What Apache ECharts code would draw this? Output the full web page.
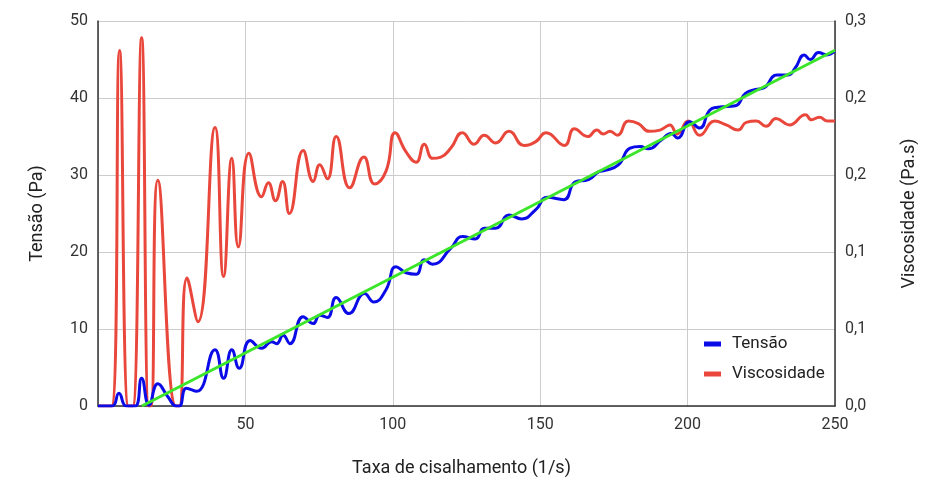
<!DOCTYPE html>
<html>
<head>
<meta charset="utf-8">
<script src="https://cdn.jsdelivr.net/npm/echarts@6/dist/echarts.min.js"></script>
<style>
html,body{margin:0;padding:0;background:#fff;}
#chart{width:926px;height:482px;}
</style>
</head>
<body>
<div id="chart"></div>
<script>
// Tensão (Pa) vs shear rate
var tensaoX = [0,4.8,7.1,9.6,12.6,14.8,17.3,20.3,23.7,26.6,27.6,30.0,33.5,39.7,42.6,45.4,47.9,51.6,55.5,58.9,60.6,62.8,65.1,69.6,73,75.2,77.8,80.8,85.1,90.4,93.6,97.7,101.1,104.5,107.9,110.7,113.5,119.7,123.6,128,131,134.9,139.4,143.7,148.5,152.4,158,161.9,166.4,169.8,172,176.5,180.5,183.9,186.7,191,194.4,196.6,200.7,204.1,207.5,210.3,216.2,219.6,223,225.8,230.3,234.2,236.5,239.6,241.6,244.4,247.2,250];
var tensaoY = [0,0,1.65,0,0,3.6,0.1,2.9,1.2,0,0,2.3,1.9,7.3,3.6,7.3,4.9,8.5,7.5,8.35,8.1,9.2,8.1,11.6,10.7,11.8,11.5,14.1,12.0,14.6,13.5,15.1,18.1,17.3,17.1,19.0,18.4,20.5,22.0,21.7,23.1,23.1,24.8,24.3,25.5,27.1,26.8,29.1,29.4,30.4,30.6,31.3,33.5,33.7,33.4,34.5,35.4,34.8,36.9,36.1,38.4,38.8,39.0,40.6,41.1,41.3,43.0,43.0,43.9,45.6,45.0,45.9,45.6,46.1];
// Viscosidade (Pa.s)
var viscX = [0,4.6,7.3,10.3,11.8,14.8,17.2,18.0,20.3,26.4,27.6,30.2,33.9,39.7,42.6,45.4,47.6,51.2,55.5,57.8,60.2,62.6,64.9,69.6,73,75.2,77.8,80.8,85.4,90.2,93.8,97.7,100.8,104.5,107.9,110.7,113.5,116.3,119.7,123.6,127.6,131,134.9,139.4,144.5,148.5,152,158.2,161.6,166.1,169.2,171.4,173.7,176.2,179.9,183.3,187,190.6,192.9,194,196.5,200.2,204.1,209.2,213.1,217.1,219.9,223.3,226.6,230,234.5,240,242,244.7,247.5,250];
var viscY = [0,0,0.277,0,0,0.287,0,0,0.176,0,0,0.0997,0.0657,0.217,0.101,0.193,0.124,0.197,0.163,0.174,0.160,0.175,0.150,0.199,0.175,0.188,0.177,0.210,0.170,0.194,0.173,0.183,0.213,0.198,0.190,0.204,0.193,0.194,0.201,0.213,0.204,0.211,0.205,0.214,0.203,0.206,0.213,0.203,0.216,0.210,0.215,0.212,0.214,0.211,0.222,0.220,0.214,0.215,0.218,0.219,0.212,0.222,0.211,0.222,0.219,0.215,0.221,0.222,0.218,0.224,0.219,0.227,0.223,0.225,0.222,0.222];
// Linear trend of Tensão
var trendX = [14.9, 250];
var trendY = [0, 46.2];

var xTicks = [50, 100, 150, 200, 250];

function zip(a, b) { return a.map(function (v, i) { return [v, b[i]]; }); }

var chart = echarts.init(document.getElementById('chart'), null, {renderer: 'canvas'});
var font = 'Roboto';
chart.setOption({
  animation: false,
  textStyle: {fontFamily: font},
  grid: {left: 98, right: 88, top: 21, bottom: 76, containLabel: false},
  legend: {
    orient: 'vertical', left: 699, top: 329,
    itemWidth: 17, itemHeight: 5, itemGap: 10,
    icon: 'rect',
    textStyle: {fontFamily: font, fontSize: 17, color: '#222', lineHeight: 20, padding: [0, 0, 0, 6]},
    data: ['Tensão', 'Viscosidade']
  },
  xAxis: {
    type: 'value', min: 0, max: 250, interval: 50,
    name: 'Taxa de cisalhamento (1/s)', nameLocation: 'middle', nameGap: 53,
    nameTextStyle: {fontFamily: font, fontSize: 18, color: '#222', padding: [0, 10, 0, 0]},
    axisLine: {show: true, lineStyle: {color: '#333', width: 1.5}},
    axisTick: {show: false},
    axisLabel: {fontFamily: font, fontSize: 16, color: '#333', margin: 11,
      formatter: function (v) { return xTicks.indexOf(v) >= 0 ? String(v) : ''; }},
    splitLine: {show: true, lineStyle: {color: '#cccccc', width: 1}}
  },
  yAxis: [{
    type: 'value', min: 0, max: 50, interval: 10, position: 'left',
    name: 'Tensão (Pa)', nameLocation: 'middle', nameGap: 52, nameRotate: 90,
    nameTextStyle: {fontFamily: font, fontSize: 18, color: '#222'},
    axisLine: {show: true, lineStyle: {color: '#333', width: 1.5}},
    axisTick: {show: false},
    axisLabel: {fontFamily: font, fontSize: 16, color: '#333', margin: 10},
    splitLine: {show: true, lineStyle: {color: '#cccccc', width: 1}}
  }, {
    type: 'value', min: 0, max: 0.3, interval: 0.06, position: 'right',
    name: 'Viscosidade (Pa.s)', nameLocation: 'middle', nameGap: 65, nameRotate: 90,
    nameTextStyle: {fontFamily: font, fontSize: 18, color: '#222'},
    axisLine: {show: true, lineStyle: {color: '#333', width: 1.5}},
    axisTick: {show: false},
    axisLabel: {fontFamily: font, fontSize: 16, color: '#333', margin: 10,
      formatter: function (v) { return v.toFixed(1).replace('.', ','); }},
    splitLine: {show: false}
  }],
  series: [{
    name: 'Viscosidade', type: 'line', yAxisIndex: 1, smooth: 0.5,
    showSymbol: false, z: 2,
    lineStyle: {color: '#e9473b', width: 3},
    itemStyle: {color: '#e9473b'},
    data: zip(viscX, viscY)
  }, {
    name: 'Tensão', type: 'line', yAxisIndex: 0, smooth: 0.5,
    showSymbol: false, z: 3,
    lineStyle: {color: '#0b0be8', width: 3},
    itemStyle: {color: '#0b0be8'},
    data: zip(tensaoX, tensaoY)
  }, {
    name: 'Tendência', type: 'line', yAxisIndex: 0,
    showSymbol: false, z: 4,
    lineStyle: {color: '#3be62a', width: 3},
    itemStyle: {color: '#3be62a'},
    data: zip(trendX, trendY)
  }]
});
</script>
</body>
</html>
